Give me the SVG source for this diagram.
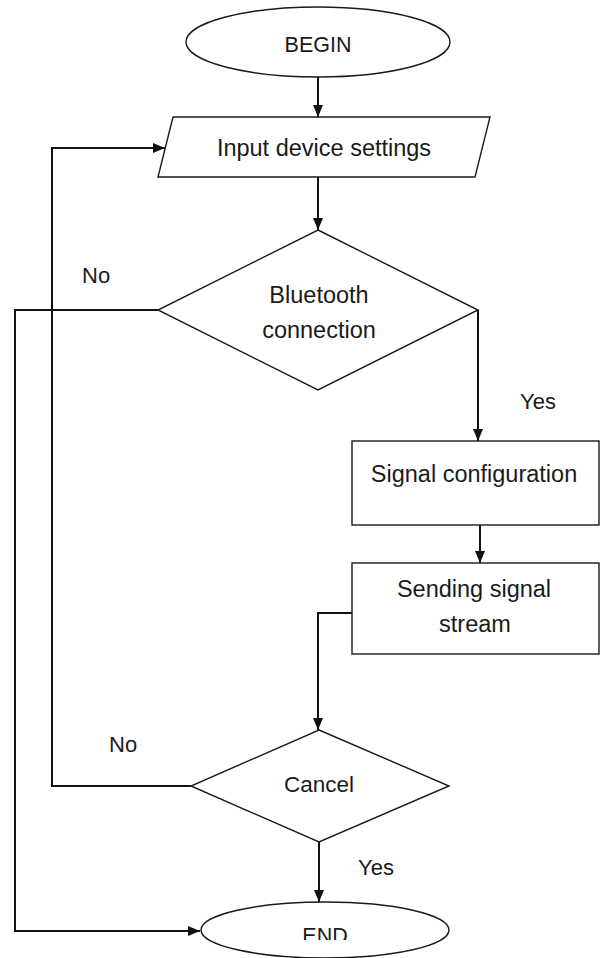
<svg xmlns="http://www.w3.org/2000/svg" width="601" height="958" viewBox="0 0 601 958">
  <style>
    .shape { fill: #ffffff; stroke: #1a1a1a; stroke-width: 1.4; }
    .conn { fill: none; stroke: #111111; stroke-width: 2; }
    text { font-family: "Liberation Sans", Arial, sans-serif; fill: #1a1a1a; }
    .t { font-size: 23.5px; text-anchor: middle; }
    .caps { font-size: 21.5px; text-anchor: middle; }
    .lbl { font-size: 22px; }
  </style>
  <defs>
    <marker id="arrow" markerUnits="userSpaceOnUse" markerWidth="12" markerHeight="12" refX="12" refY="6" orient="auto">
      <path d="M0,1 L12,6 L0,11 Z" fill="#111111"/>
    </marker>
    <clipPath id="endClip">
      <rect x="0" y="0" width="601" height="940"/>
    </clipPath>
  </defs>

  <g id="connectors">
    <path class="conn" d="M318,77 V117" marker-end="url(#arrow)"/>
    <path class="conn" d="M318,177 V230" marker-end="url(#arrow)"/>
    <path class="conn" d="M478,310 V441" marker-end="url(#arrow)"/>
    <path class="conn" d="M480,525 V563" marker-end="url(#arrow)"/>
    <path class="conn" d="M352,613 H318 V730" marker-end="url(#arrow)"/>
    <path class="conn" d="M319,842 V902" marker-end="url(#arrow)"/>
    <path class="conn" d="M191,786 H52 V148 H165" marker-end="url(#arrow)"/>
    <path class="conn" d="M158,310 H15 V931 H200" marker-end="url(#arrow)"/>
  </g>

  <g id="labels">
    <text class="lbl" x="82" y="283">No</text>
    <text class="lbl" x="520" y="409">Yes</text>
    <text class="lbl" x="109" y="752">No</text>
    <text class="lbl" x="358" y="875">Yes</text>
  </g>

  <g id="begin">
    <ellipse class="shape" cx="318" cy="42" rx="132" ry="35"/>
    <text class="caps" x="318" y="52">BEGIN</text>
  </g>

  <g id="input">
    <polygon class="shape" points="173,117 490,117 475,177 158,177"/>
    <text class="t" x="324" y="156">Input device settings</text>
  </g>

  <g id="bluetooth">
    <polygon class="shape" points="318,230 478,310 318,390 158,310"/>
    <text class="t" x="319" y="303">Bluetooth</text>
    <text class="t" x="319" y="338">connection</text>
  </g>

  <g id="signal-config">
    <rect class="shape" x="352" y="441" width="247" height="84"/>
    <text class="t" x="474" y="482">Signal configuration</text>
  </g>

  <g id="sending">
    <rect class="shape" x="352" y="563" width="247" height="91"/>
    <text class="t" x="474" y="597">Sending signal</text>
    <text class="t" x="475" y="632">stream</text>
  </g>

  <g id="cancel">
    <polygon class="shape" points="319,730 449,786 319,842 191,786"/>
    <text class="t" x="319" y="792" style="font-size:22.5px">Cancel</text>
  </g>

  <g id="end">
    <ellipse class="shape" cx="325" cy="930" rx="124" ry="28"/>
    <text class="caps" x="325" y="943" clip-path="url(#endClip)">END</text>
  </g>
</svg>
